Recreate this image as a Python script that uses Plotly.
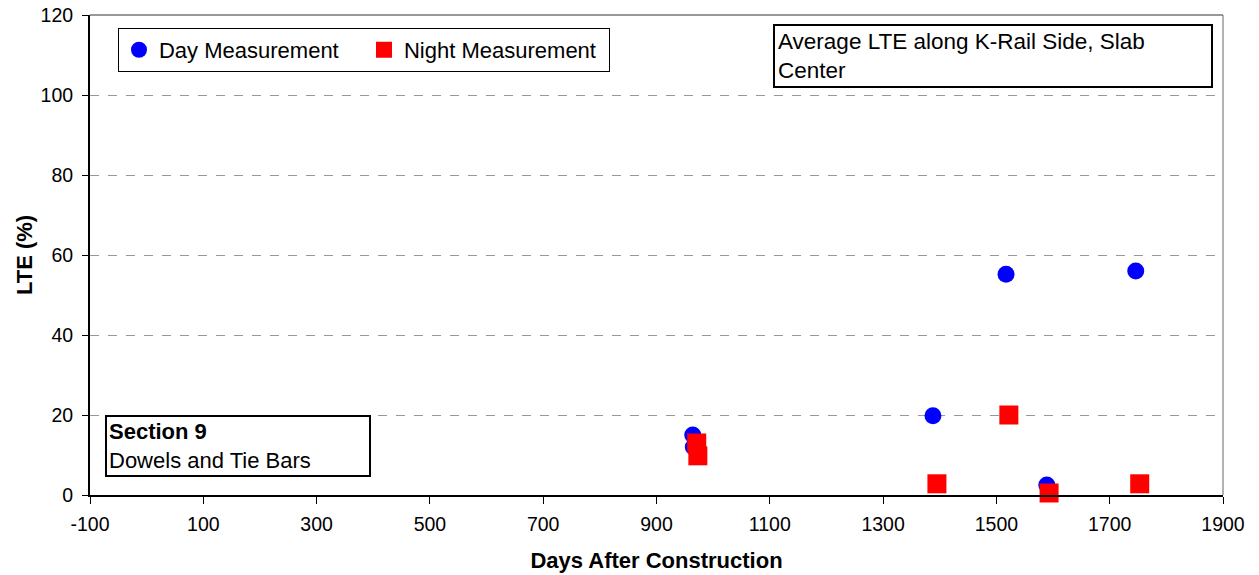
import plotly.graph_objects as go

day_x = [964, 965, 1388, 1517, 1589, 1746]
day_y = [15, 12, 19.8, 55.2, 2.5, 56]
night_x = [971, 973, 1395, 1522, 1593, 1753]
night_y = [13, 9.8, 2.8, 20, 0.5, 2.8]

x_ticks = list(range(-100, 2000, 200))
x_ticktext = [str(v) for v in x_ticks]
y_ticks = list(range(0, 140, 20))

FONT = "Liberation Sans, Arial, sans-serif"

fig = go.Figure()
fig.add_trace(go.Scatter(
    x=day_x, y=day_y, mode="markers", name="Day Measurement",
    marker=dict(symbol="circle", size=17, color="#0000FF", line=dict(width=0)),
    cliponaxis=False,
))
fig.add_trace(go.Scatter(
    x=night_x, y=night_y, mode="markers", name="Night Measurement",
    marker=dict(symbol="square", size=19, color="#FF0000", line=dict(width=0)),
    cliponaxis=False,
))

fig.update_layout(
    width=1259, height=575,
    margin=dict(l=90, r=36, t=15, b=80),
    paper_bgcolor="white", plot_bgcolor="white",
    font=dict(family=FONT, size=19.5, color="black"),
    showlegend=True,
    legend=dict(
        orientation="h", x=0.0247, y=0.973, xanchor="left", yanchor="top",
        bordercolor="black", borderwidth=1, bgcolor="white",
        font=dict(size=22), entrywidth=200, entrywidthmode="pixels",
        itemsizing="trace",
    ),
    xaxis=dict(
        range=[-100, 1900], tickvals=x_ticks, ticktext=x_ticktext,
        ticks="outside", ticklen=7, automargin=False, ticklabelstandoff=4,
        tickcolor="black", showline=True, linecolor="black", linewidth=2,
        showgrid=False, zeroline=False,
        title=dict(text="<b>Days After Construction</b>", font=dict(size=22), standoff=18),
    ),
    yaxis=dict(
        range=[0, 120], tickvals=y_ticks, ticks="outside", ticklen=6,
        automargin=False, ticklabelstandoff=5,
        tickcolor="black", showline=True, linecolor="black", linewidth=2,
        showgrid=True, gridcolor="#999999", griddash="dash", gridwidth=1,
        zeroline=False,
        title=dict(text="<b>LTE (%)</b>", font=dict(size=22), standoff=2),
    ),
)

# top and right frame
fig.add_shape(type="line", xref="paper", yref="paper", x0=0, x1=1, y0=1, y1=1,
              line=dict(color="#333333", width=1))
fig.add_shape(type="line", xref="paper", yref="paper", x0=1, x1=1, y0=0, y1=1,
              line=dict(color="#666666", width=1))

fig.add_annotation(
    xref="paper", yref="paper", x=0.603, y=0.981, xanchor="left", yanchor="top",
    text="Average LTE along K-Rail Side, Slab<br>Center", align="left",
    showarrow=False, font=dict(size=22.5), bordercolor="black", borderwidth=2,
    borderpad=3, bgcolor="white", width=430,
)
fig.add_annotation(
    xref="paper", yref="paper", x=0.0132, y=0.1667, xanchor="left", yanchor="top",
    text="<b>Section 9</b><br>Dowels and Tie Bars", align="left",
    showarrow=False, font=dict(size=22), bordercolor="black", borderwidth=2,
    borderpad=2, bgcolor="white", width=258,
)

fig.write_html("out.html", config={"displayModeBar": False},
               post_script="document.body.style.margin='0px';")
